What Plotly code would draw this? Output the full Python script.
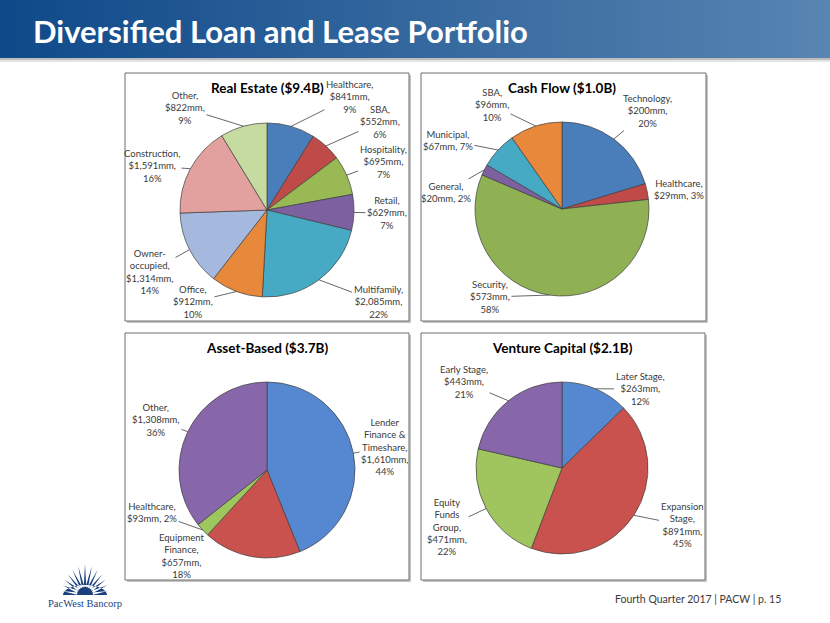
import math
import plotly.graph_objects as go

# ---------------- data ----------------
re_names = ["Healthcare", "SBA", "Hospitality", "Retail", "Multifamily", "Office",
            "Owner-<br>occupied", "Construction", "Other"]
re_values = [841, 552, 695, 629, 2085, 912, 1314, 1591, 822]
re_pcts = [9, 6, 7, 7, 22, 10, 14, 16, 9]

cf_names = ["Technology", "Healthcare", "Security", "General", "Municipal", "SBA"]
cf_values = [200, 29, 573, 20, 67, 96]
cf_pcts = [20, 3, 58, 2, 7, 10]

ab_names = ["Lender<br>Finance &<br>Timeshare", "Equipment<br>Finance", "Healthcare", "Other"]
ab_values = [1610, 657, 93, 1308]
ab_pcts = [44, 18, 2, 36]

vc_names = ["Later Stage", "Expansion<br>Stage", "Equity<br>Funds<br>Group", "Early Stage"]
vc_values = [263, 891, 471, 443]
vc_pcts = [12, 45, 22, 21]

chart_titles = ["Real Estate ($9.4B)", "Cash Flow ($1.0B)", "Asset-Based ($3.7B)", "Venture Capital ($2.1B)"]

# ---------------- styling / layout ----------------
W, H = 830, 623
FONT = "Lato, 'Open Sans', sans-serif"
TXT = "#3a3a3a"


def X(p):
    return p / W


def Y(p):
    return 1 - p / H


charts = [
    dict(names=re_names, values=re_values, pcts=re_pcts, title=chart_titles[0],
         center=(267, 210), r=87, box=(125, 73, 409, 321),
         colors=["#4A7EBB", "#BE4B48", "#98B954", "#7D60A0", "#46AAC5", "#E8883A",
                 "#A5B9DE", "#E2A19F", "#C6DBA0"],
         compact=[False] * 9,
         labelpos=[(350, 97), (380, 122), (383, 162), (387, 213), (378, 302),
                   (193, 302), (150, 272), (152, 166), (185, 108)],
         arrow=[True] * 9),
    dict(names=cf_names, values=cf_values, pcts=cf_pcts, title=chart_titles[1],
         center=(562, 209), r=87, box=(421, 73, 706, 321),
         colors=["#4A7EBB", "#BE4B48", "#8FB154", "#7D60A0", "#46AAC5", "#E8883A"],
         compact=[False, True, False, True, True, False],
         labelpos=[(647, 111), (679, 190), (490, 297), (446, 192), (448, 140), (492, 105)],
         arrow=[True, False, True, True, True, True]),
    dict(names=ab_names, values=ab_values, pcts=ab_pcts, title=chart_titles[2],
         center=(267, 470), r=88, box=(125, 333, 409, 580),
         colors=["#5588D0", "#C9514E", "#9DC65C", "#8767AA"],
         compact=[False, False, True, False],
         labelpos=[(385, 447), (182, 556), (152, 512), (156, 420)],
         arrow=[True, False, True, True]),
    dict(names=vc_names, values=vc_values, pcts=vc_pcts, title=chart_titles[3],
         center=(562, 468), r=86, box=(421, 333, 705, 580),
         colors=["#5588D0", "#C9514E", "#A0C55E", "#8767AA"],
         compact=[False] * 4,
         labelpos=[(640, 389), (682, 525), (447, 527), (464, 382)],
         arrow=[True] * 4),
]

fig = go.Figure()
shapes = []
annotations = []

# banner gradient
N = 83
c0 = (16, 74, 138)
c1 = (88, 133, 178)
for i in range(N):
    t = i / (N - 1)
    col = tuple(int(c0[k] + (c1[k] - c0[k]) * t) for k in range(3))
    shapes.append(dict(type="rect", xref="paper", yref="paper", layer="below",
                       x0=X(i * W / N), x1=X((i + 1) * W / N + 0.6), y0=Y(58), y1=Y(0),
                       fillcolor="rgb(%d,%d,%d)" % col, line=dict(width=0)))
shapes.append(dict(type="rect", xref="paper", yref="paper", layer="below",
                   x0=0, x1=1, y0=Y(60), y1=Y(58), fillcolor="#BDBDBD", line=dict(width=0)))
shapes.append(dict(type="rect", xref="paper", yref="paper", layer="below",
                   x0=0, x1=1, y0=Y(62), y1=Y(60), fillcolor="#E4E4E4", line=dict(width=0)))

annotations.append(dict(text="<b>Diversified Loan and Lease Portfolio</b>", xref="paper", yref="paper",
                        x=X(31), y=Y(31), xanchor="left", yanchor="middle", showarrow=False,
                        font=dict(family="Lato, 'Open Sans', sans-serif", size=31, color="white")))

for ch in charts:
    bx0, by0, bx1, by1 = ch["box"]
    # shadow + box
    shapes.append(dict(type="rect", xref="paper", yref="paper", layer="below",
                       x0=X(bx0 + 2), x1=X(bx1 + 2), y0=Y(by1 + 2), y1=Y(by0 + 2),
                       fillcolor="#C4C4C4", line=dict(width=0)))
    shapes.append(dict(type="rect", xref="paper", yref="paper", layer="below",
                       x0=X(bx0), x1=X(bx1), y0=Y(by1), y1=Y(by0),
                       fillcolor="white", line=dict(color="#6E6E6E", width=1)))
    cx, cy = ch["center"]
    r = ch["r"]
    fig.add_trace(go.Pie(
        labels=[n.replace("<br>", " ") for n in ch["names"]], values=ch["values"],
        sort=False, direction="clockwise", rotation=0,
        marker=dict(colors=ch["colors"], line=dict(color="#3F3F3F", width=0.7)),
        textinfo="none", hoverinfo="label+value",
        domain=dict(x=[X(cx - r), X(cx + r)], y=[Y(cy + r), Y(cy - r)]),
    ))
    annotations.append(dict(text="<b>%s</b>" % ch["title"], xref="paper", yref="paper",
                            x=X(cx), y=Y(by0 + 15), xanchor="center", yanchor="middle",
                            showarrow=False, font=dict(family=FONT, size=13.5, color="black")))
    total = float(sum(ch["values"]))
    cum = 0.0
    for name, v, p, comp, (lx, ly), arr in zip(ch["names"], ch["values"], ch["pcts"],
                                                 ch["compact"], ch["labelpos"], ch["arrow"]):
        mid = (cum + v / 2.0) / total
        cum += v
        th = 2 * math.pi * mid
        hx = cx + r * math.sin(th)
        hy = cy - r * math.cos(th)
        if comp:
            text = "%s,<br>$%smm, %d%%" % (name, format(v, ","), p)
        else:
            text = "%s,<br>$%smm,<br>%d%%" % (name, format(v, ","), p)
        if arr:
            annotations.append(dict(text=text, xref="paper", yref="paper", x=X(hx), y=Y(hy),
                                    ax=lx - hx, ay=ly - hy, showarrow=True, arrowhead=0,
                                    arrowwidth=0.8, arrowcolor="#404040", standoff=0,
                                    align="center",
                                    font=dict(family=FONT, size=9.5, color=TXT)))
        else:
            annotations.append(dict(text=text, xref="paper", yref="paper", x=X(lx), y=Y(ly),
                                    showarrow=False, align="center", xanchor="center", yanchor="middle",
                                    font=dict(family=FONT, size=9.5, color=TXT)))

# logo starburst
lcx, lcy = 85, 595
path = ""
n_sp = 13
for i in range(n_sp):
    deg = -80 + i * 160 / (n_sp - 1)
    a = math.radians(deg)
    L = 31 - 8 * abs(deg) / 80
    hw = math.radians(9)
    r0 = 8
    pts = [(lcx + r0 * math.sin(a - hw), lcy - r0 * math.cos(a - hw)),
           (lcx + L * math.sin(a), lcy - L * math.cos(a)),
           (lcx + r0 * math.sin(a + hw), lcy - r0 * math.cos(a + hw))]
    path += "M %f,%f L %f,%f L %f,%f Z " % (X(pts[0][0]), Y(pts[0][1]), X(pts[1][0]), Y(pts[1][1]),
                                            X(pts[2][0]), Y(pts[2][1]))
# dome
dome = []
for k in range(21):
    t = math.pi * k / 20
    dome.append((lcx - 22 * math.cos(t), lcy - 10 * math.sin(t)))
path += "M " + " L ".join("%f,%f" % (X(px), Y(py)) for px, py in dome) + " Z"
shapes.append(dict(type="path", xref="paper", yref="paper", path=path,
                   fillcolor="#1C3F7E", line=dict(width=0)))
annotations.append(dict(text="PacWest Bancorp", xref="paper", yref="paper", x=X(85), y=Y(603),
                        showarrow=False, xanchor="center", yanchor="middle",
                        font=dict(family="'Liberation Serif', 'DejaVu Serif', serif", size=10.5,
                                  color="#24427F")))
annotations.append(dict(text="Fourth Quarter 2017 | PACW | p. 15", xref="paper", yref="paper",
                        x=X(698), y=Y(599), showarrow=False, xanchor="center", yanchor="middle",
                        font=dict(family=FONT, size=10.5, color=TXT)))

fig.update_layout(width=W, height=H, margin=dict(l=0, r=0, t=0, b=0),
                  paper_bgcolor="white", plot_bgcolor="white", showlegend=False,
                  shapes=shapes, annotations=annotations)
fig.write_html("out.html", config={"displayModeBar": False},
               post_script="document.body.style.margin='0';document.body.style.padding='0';")
